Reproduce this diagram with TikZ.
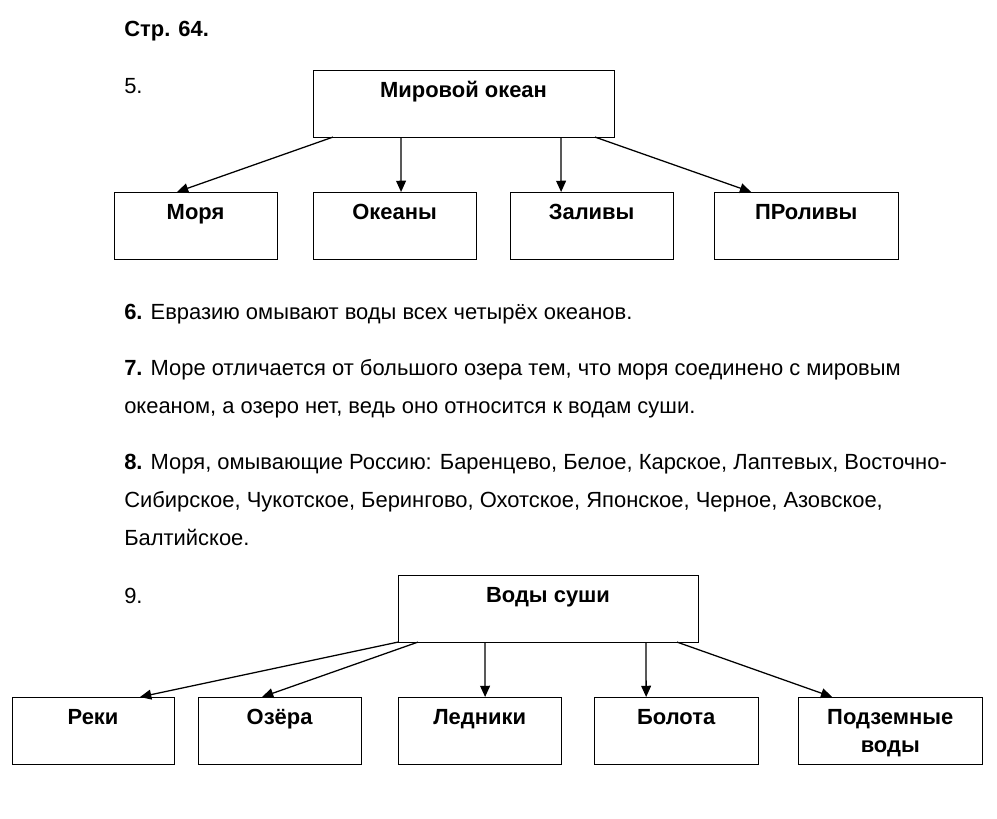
\documentclass[tikz,border=0pt]{standalone}
\usepackage{fontspec}
\setmainfont{Liberation Sans}
\usetikzlibrary{arrows.meta,positioning,calc}

\begin{document}
\begin{tikzpicture}[x=0.025cm, y=-0.025cm,
  font=\fontsize{15.6}{20}\selectfont,
  blok/.style={draw, line width=0.7pt, inner sep=0pt, outer sep=0pt, align=center,
               font=\fontsize{15.6}{20}\selectfont\bfseries,
               minimum width=4.075cm, minimum height=1.675cm,
               text height=19.9pt, text depth=27.8pt},
  strelka/.style={-{Triangle[length=8pt,width=7pt]}, line width=0.9pt},
  tekst/.style={anchor=base west, inner sep=0pt, align=left,
                font=\fontsize{15.6}{27}\selectfont}]
\useasboundingbox (0,0) rectangle (997,819);

% zadanie 5
\node[tekst, font=\fontsize{15.6}{20}\selectfont\bfseries] (str) at (124,37) {Стр. 64.};
\node[tekst] (n5) at (124,94) {5.};
\node[blok, anchor=north west, minimum width=7.525cm] (okean) at (313,70) {Мировой океан};
\node[blok, anchor=north west] (morya) at (114,192) {Моря};
\node[blok, right=0.9cm of morya] (okeany) {Океаны};
\node[blok, right=0.85cm of okeany] (zalivy) {Заливы};
\node[blok, right=1.025cm of zalivy, minimum width=4.6cm] (prolivy) {ПРоливы};
\draw[strelka] ($(okean.south west)+(20,0)$) -- ($(morya.north west)+(63,0)$);
\draw[strelka] ($(okean.south west)+(88,0)$) -- ($(okeany.north west)+(88,0)$);
\draw[strelka] ($(okean.south west)+(248,0)$) -- ($(zalivy.north west)+(51,0)$);
\draw[strelka] ($(okean.south west)+(282,0)$) -- ($(prolivy.north west)+(37,0)$);

% zadaniya 6--8 (base = poslednyaya stroka)
\node[tekst] (t6) at (124,319) {\textbf{6.} Евразию омывают воды всех четырёх океанов.};
\node[tekst] (t7) at (124,413) {\textbf{7.} Море отличается от большого озера тем, что моря соединено с мировым\\
  океаном, а озеро нет, ведь оно относится к водам суши.};
\node[tekst] (t8) at (124,545) {\textbf{8.} Моря, омывающие Россию: Баренцево, Белое, Карское, Лаптевых, Восточно-\\
  Сибирское, Чукотское, Берингово, Охотское, Японское, Черное, Азовское,\\
  Балтийское.};

% zadanie 9
\node[tekst] (n9) at (124,603) {9.};
\node[blok, anchor=north west, minimum width=7.5cm] (vody) at (398,575) {Воды суши};
\node[blok, anchor=north west, minimum width=4.05cm] (reki) at (12,697) {Реки};
\node[blok, right=0.6cm of reki] (ozera) {Озёра};
\node[blok, right=0.925cm of ozera] (ledniki) {Ледники};
\node[blok, right=0.825cm of ledniki, minimum width=4.1cm] (bolota) {Болота};
\node[blok, right=1cm of bolota, minimum width=4.6cm,
      text height=39.8pt, text depth=7.9pt] (podzem) {Подземные\\воды};
\draw[strelka] (vody.south west) -- ($(reki.north west)+(128,0)$);
\draw[strelka] ($(vody.south west)+(20,0)$) -- ($(ozera.north west)+(64,0)$);
\draw[strelka] ($(vody.south west)+(87,0)$) -- ($(ledniki.north west)+(87,0)$);
\draw[strelka] ($(vody.south west)+(248,0)$) -- ($(bolota.north west)+(52,0)$);
\draw[strelka] ($(vody.south west)+(279,0)$) -- ($(podzem.north west)+(34,0)$);
\end{tikzpicture}
\end{document}
